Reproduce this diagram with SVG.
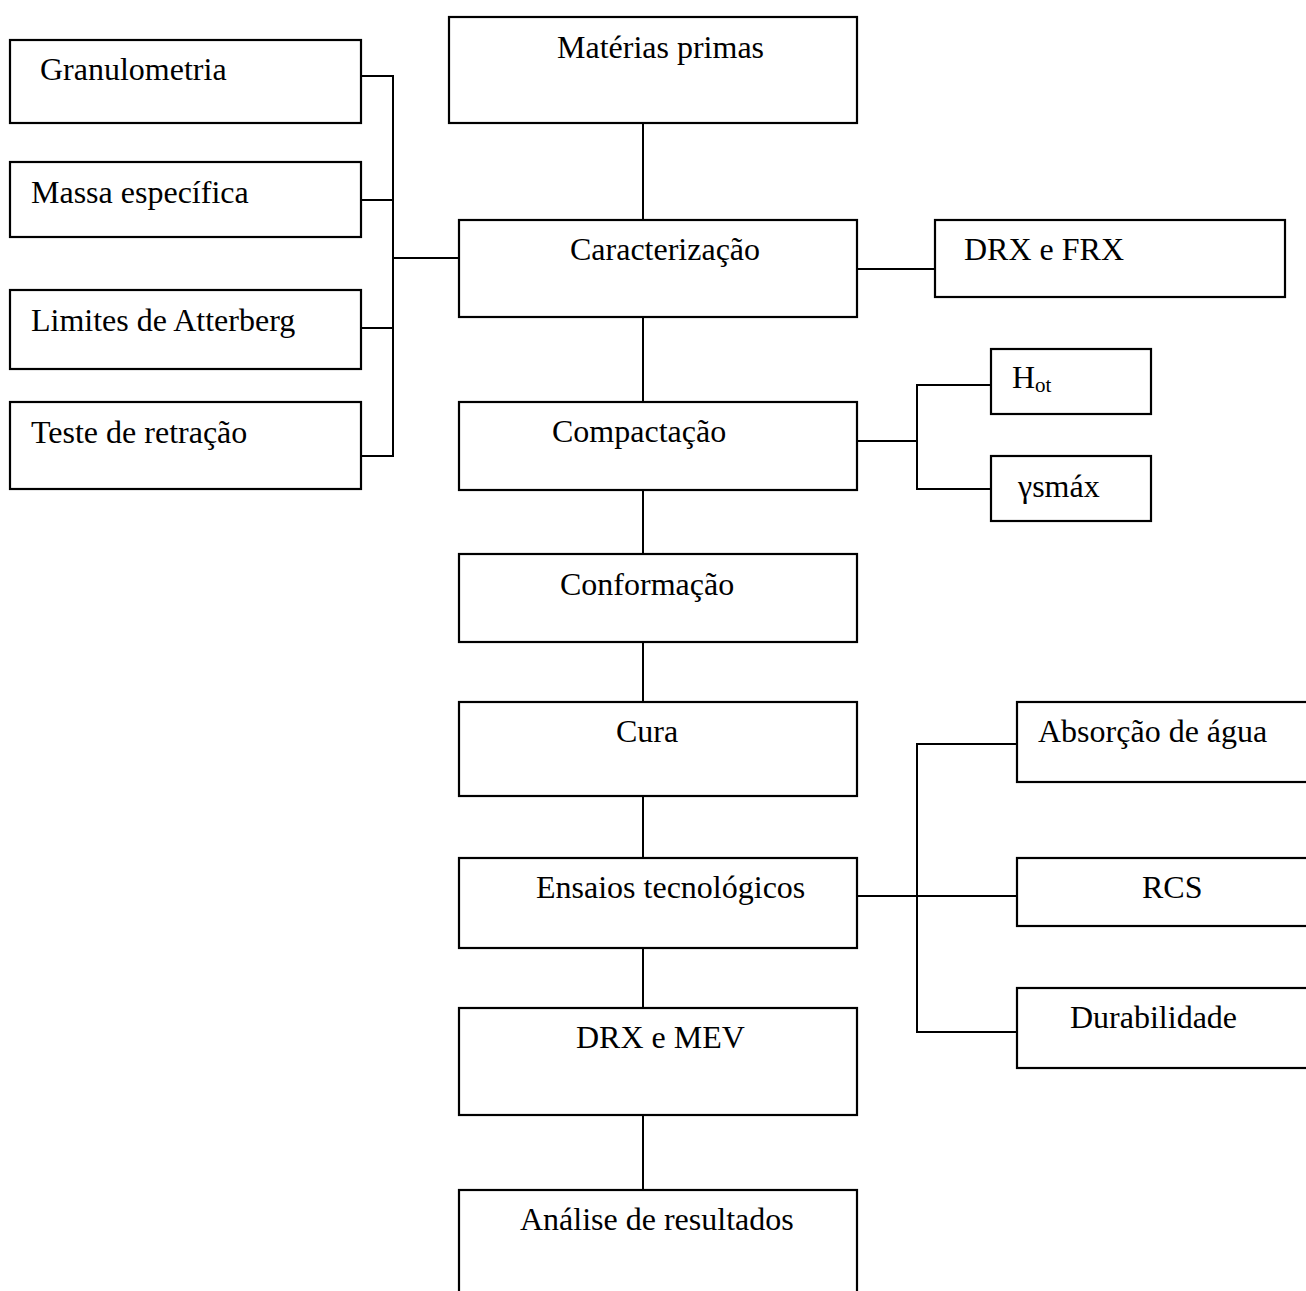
<svg xmlns="http://www.w3.org/2000/svg" width="1306" height="1291" viewBox="0 0 1306 1291">
<style>
.box{fill:#fff;stroke:#000;stroke-width:2.2}
.t{font-family:"Liberation Serif","Times New Roman",serif;font-size:32px;fill:#000}
.sub{font-size:21px}
.c{fill:none;stroke:#000;stroke-width:2}
</style>
<rect width="1306" height="1291" fill="#fff"/>
<g id="connectors">
<path class="c" d="M361 76H393V456H361M361 200H393M361 328H393M393 258H459"/>
<path class="c" d="M643 123V220M643 317V402M643 490V554M643 642V702M643 796V858M643 948V1008M643 1115V1190"/>
<path class="c" d="M857 269H935"/>
<path class="c" d="M857 441H917M991 385H917V489H991"/>
<path class="c" d="M857 896H1017M1017 744H917V1032H1017"/>
</g>
<g id="granulometria"><rect class="box" x="10" y="40" width="351" height="83"/><text class="t" x="40" y="80">Granulometria</text></g>
<g id="massa"><rect class="box" x="10" y="162" width="351" height="75"/><text class="t" x="31" y="203">Massa específica</text></g>
<g id="limites"><rect class="box" x="10" y="290" width="351" height="79"/><text class="t" x="31" y="331">Limites de Atterberg</text></g>
<g id="teste"><rect class="box" x="10" y="402" width="351" height="87"/><text class="t" x="31" y="443">Teste de retração</text></g>
<g id="materias"><rect class="box" x="449" y="17" width="408" height="106"/><text class="t" x="557" y="58">Matérias primas</text></g>
<g id="caracterizacao"><rect class="box" x="459" y="220" width="398" height="97"/><text class="t" x="570" y="260">Caracterização</text></g>
<g id="drxfrx"><rect class="box" x="935" y="220" width="350" height="77"/><text class="t" x="964" y="260">DRX e FRX</text></g>
<g id="compactacao"><rect class="box" x="459" y="402" width="398" height="88"/><text class="t" x="552" y="442">Compactação</text></g>
<g id="hot"><rect class="box" x="991" y="349" width="160" height="65"/><text class="t" x="1012" y="388">H<tspan class="sub" dy="4">ot</tspan></text></g>
<g id="gamma"><rect class="box" x="991" y="456" width="160" height="65"/><text class="t" x="1018" y="497">γsmáx</text></g>
<g id="conformacao"><rect class="box" x="459" y="554" width="398" height="88"/><text class="t" x="560" y="595">Conformação</text></g>
<g id="cura"><rect class="box" x="459" y="702" width="398" height="94"/><text class="t" x="616" y="742">Cura</text></g>
<g id="ensaios"><rect class="box" x="459" y="858" width="398" height="90"/><text class="t" x="536" y="898">Ensaios tecnológicos</text></g>
<g id="drxmev"><rect class="box" x="459" y="1008" width="398" height="107"/><text class="t" x="576" y="1048">DRX e MEV</text></g>
<g id="analise"><rect class="box" x="459" y="1190" width="398" height="120"/><text class="t" x="520" y="1230">Análise de resultados</text></g>
<g id="absorcao"><rect class="box" x="1017" y="702" width="300" height="80"/><text class="t" x="1038" y="742">Absorção de água</text></g>
<g id="rcs"><rect class="box" x="1017" y="858" width="300" height="68"/><text class="t" x="1142" y="898">RCS</text></g>
<g id="durabilidade"><rect class="box" x="1017" y="988" width="300" height="80"/><text class="t" x="1070" y="1028">Durabilidade</text></g>
</svg>
